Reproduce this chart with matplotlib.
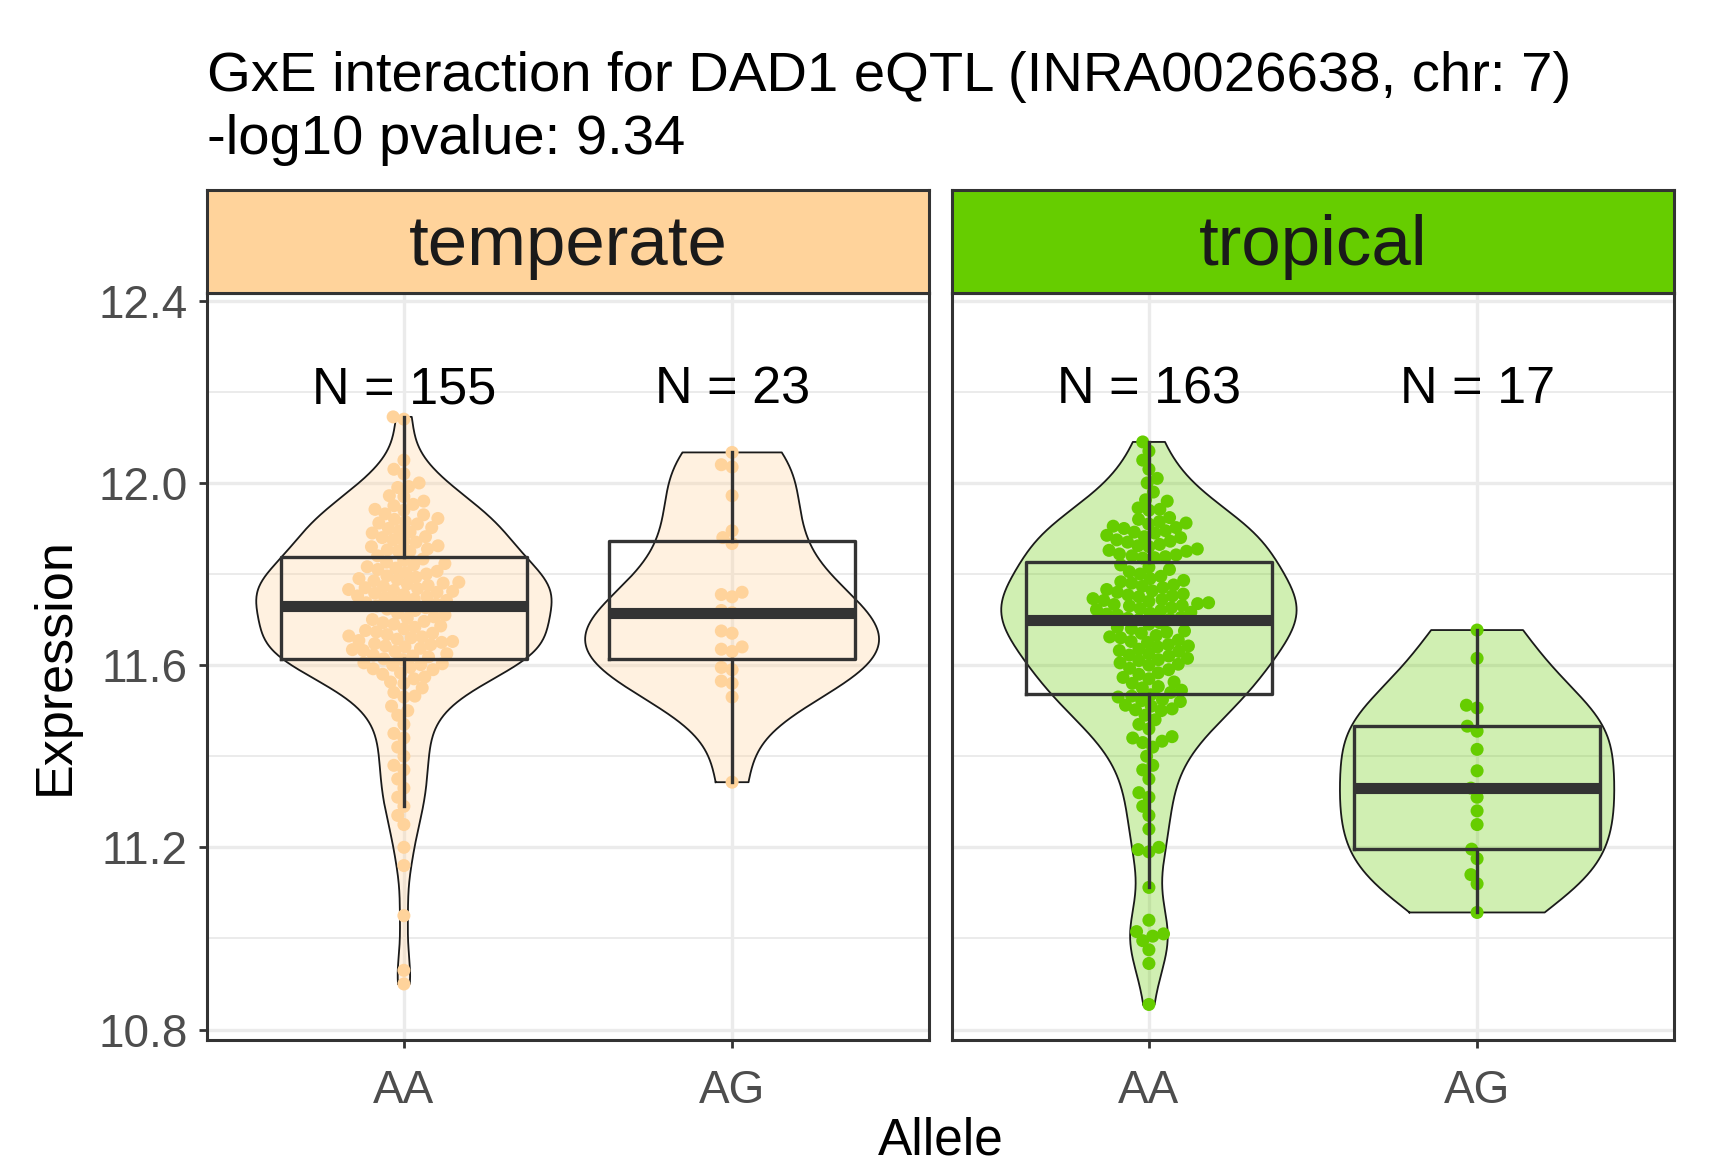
import numpy as np
import matplotlib
matplotlib.use("Agg")
import matplotlib.pyplot as plt

plt.rcParams['font.family'] = ['Liberation Sans', 'DejaVu Sans']

title = "GxE interaction for DAD1 eQTL (INRA0026638, chr: 7)\n-log10 pvalue: 9.34"
environments = ["temperate", "tropical"]
alleles = ["AA", "AG"]
env_colors = {"temperate": "#FFD39B", "tropical": "#66CD00"}

# expression values
temperate_AA = [
    10.90, 10.93, 11.05, 11.16, 11.20, 11.25, 11.27, 11.29, 11.31, 11.33,
    11.35, 11.37, 11.38, 11.40, 11.42, 11.44, 11.45, 11.47, 11.49, 11.50,
    11.51, 11.53, 11.532, 11.54, 11.55, 11.56, 11.563, 11.57, 11.574, 11.58,
    11.583, 11.59, 11.592, 11.595, 11.60, 11.601, 11.603, 11.605,
    11.612, 11.614, 11.618, 11.62, 11.622, 11.625, 11.63, 11.632, 11.634, 11.637,
    11.64, 11.642, 11.645, 11.647, 11.65, 11.652, 11.654, 11.657, 11.66, 11.662,
    11.664, 11.667, 11.67, 11.673, 11.676, 11.68, 11.683, 11.686, 11.69, 11.693,
    11.696, 11.70, 11.703, 11.706, 11.71, 11.714, 11.72, 11.723, 11.726,
    11.73,
    11.731, 11.734, 11.737, 11.74, 11.742, 11.745, 11.748, 11.75, 11.752, 11.755,
    11.758, 11.76, 11.762, 11.764, 11.766, 11.768, 11.77, 11.773, 11.775, 11.778,
    11.78, 11.782, 11.785, 11.788, 11.79, 11.793, 11.796, 11.80, 11.803, 11.806,
    11.81, 11.813, 11.816, 11.82, 11.823, 11.826, 11.83, 11.833,
    11.84, 11.85, 11.851, 11.853, 11.855, 11.86, 11.862, 11.87, 11.872, 11.875,
    11.88, 11.882, 11.89, 11.892, 11.895, 11.90, 11.902, 11.91, 11.912, 11.915,
    11.92, 11.922, 11.93, 11.932, 11.94, 11.942, 11.95, 11.953, 11.96, 11.97,
    11.972, 11.99, 11.992, 12.00, 12.02, 12.03, 12.05, 12.14, 12.145,
]
temperate_AG = [
    11.343, 11.53, 11.56, 11.565, 11.59, 11.595, 11.63, 11.635, 11.64, 11.67,
    11.675, 11.715, 11.72, 11.75, 11.755, 11.76, 11.867, 11.88, 11.895, 11.972,
    12.035, 12.04, 12.067,
]
tropical_AA = [
    10.855, 10.945, 10.975, 10.995, 11.005, 11.01, 11.015, 11.04, 11.112, 11.19,
    11.195, 11.20, 11.24, 11.27, 11.29, 11.31, 11.32, 11.35, 11.37, 11.38,
    11.40, 11.42, 11.43, 11.433, 11.44, 11.443, 11.46, 11.47, 11.48, 11.49,
    11.50, 11.502, 11.504, 11.51, 11.512, 11.52, 11.522, 11.524, 11.53, 11.532,
    11.535, 11.54, 11.545, 11.55, 11.553, 11.56, 11.563, 11.57, 11.573, 11.58,
    11.583, 11.59, 11.593, 11.60, 11.602, 11.605, 11.61, 11.612, 11.615, 11.62,
    11.622, 11.625, 11.63, 11.632, 11.635, 11.64, 11.642, 11.645, 11.65, 11.652,
    11.655, 11.66, 11.662, 11.665, 11.67, 11.672, 11.675, 11.68, 11.683, 11.69,
    11.693,
    11.70,
    11.701, 11.703, 11.705, 11.71, 11.712, 11.714, 11.716, 11.72, 11.722, 11.724,
    11.726, 11.73, 11.731, 11.733, 11.735, 11.737, 11.74, 11.742, 11.744, 11.746,
    11.75, 11.752, 11.754, 11.756, 11.76, 11.763, 11.766, 11.77, 11.773, 11.776,
    11.78, 11.783, 11.786, 11.79, 11.795, 11.80, 11.805, 11.81, 11.815, 11.82,
    11.835, 11.836, 11.838, 11.84, 11.842, 11.844, 11.85, 11.852, 11.855, 11.86,
    11.862, 11.865, 11.87, 11.872, 11.875, 11.88, 11.882, 11.885, 11.89, 11.892,
    11.895, 11.90, 11.902, 11.905, 11.91, 11.912, 11.915, 11.92, 11.924, 11.94,
    11.942, 11.945, 11.96, 11.963, 11.98, 12.00, 12.01, 12.03, 12.05, 12.07,
    12.09,
]
tropical_AG = [
    11.057, 11.12, 11.14, 11.175, 11.196, 11.25, 11.28, 11.31, 11.33, 11.368,
    11.415, 11.455, 11.466, 11.506, 11.512, 11.615, 11.677,
]
data = {
    "temperate": [temperate_AA, temperate_AG],
    "tropical": [tropical_AA, tropical_AG],
}
n_labels = {"temperate": ["N = 155", "N = 23"], "tropical": ["N = 163", "N = 17"]}
label_y = 12.205

ylim = (10.777, 12.417)
xlim = (0.4, 2.6)


def kde_nrd0(v, grid):
    v = np.asarray(v)
    n = len(v)
    iqr = np.subtract(*np.percentile(v, [75, 25]))
    bw = 0.9 * min(v.std(ddof=1), iqr / 1.34) * n ** -0.2
    z = (grid[:, None] - v[None, :]) / bw
    return np.exp(-0.5 * z ** 2).sum(axis=1) / (n * bw * np.sqrt(2 * np.pi))


def swarm_offsets(ax, xc, vals, d):
    # beeswarm layout in pixel space
    ys = ax.transData.transform(np.column_stack([np.full(len(vals), xc), vals]))[:, 1]
    px_per_x = ax.transData.transform([(1, 0)])[0, 0] - ax.transData.transform([(0, 0)])[0, 0]
    placed = []
    offs = np.zeros(len(vals))
    for i in np.argsort(vals, kind="stable"):
        y = ys[i]
        cands = [0.0]
        near = [(px, py) for px, py in placed if abs(py - y) < d]
        for px, py in near:
            dx = np.sqrt(d ** 2 - (py - y) ** 2)
            cands += [px - dx, px + dx]
        cands.sort(key=abs)
        for c in cands:
            if all((c - px) ** 2 + (y - py) ** 2 >= d ** 2 - 1e-6 for px, py in near):
                offs[i] = c
                break
        placed.append((offs[i], y))
    return xc + offs / px_per_x


fig = plt.figure(figsize=(17.23, 11.69), dpi=100)
W, H = 1723, 1169
panel_x = [207, 952]
panel_w = 722
top, bottom, strip_top = 293, 1040, 190

for k, env in enumerate(environments):
    ax = fig.add_axes([panel_x[k] / W, 1 - bottom / H, panel_w / W, (bottom - top) / H])
    ax.set_xlim(*xlim)
    ax.set_ylim(*ylim)
    col = env_colors[env]
    groups = data[env]

    grids = [np.linspace(min(g), max(g), 512) for g in groups]
    dens = [kde_nrd0(g, gr) for g, gr in zip(groups, grids)]
    dmax = max(d.max() for d in dens)

    for j, (g, gr, d) in enumerate(zip(groups, grids, dens)):
        xc = j + 1
        hw = d / dmax * 0.45
        xs = np.concatenate([xc - hw, (xc + hw)[::-1]])
        ys = np.concatenate([gr, gr[::-1]])
        ax.fill(xs, ys, facecolor=col, alpha=0.3, edgecolor="none", zorder=1)
        ax.plot(np.append(xs, xs[0]), np.append(ys, ys[0]), color="#1A1A1A", lw=1.3, zorder=1.5)

        px = swarm_offsets(ax, xc, np.array(g), 11.0)
        ax.scatter(px, g, s=88, color=col, edgecolors="none", zorder=2)

        ax.text(xc, label_y, n_labels[env][j], ha="center", va="center",
                fontsize=37.5, color="black", zorder=4)

    ax.boxplot(groups, positions=[1, 2], widths=0.75, showfliers=False, whis=1.5,
               showcaps=False, manage_ticks=False, zorder=3,
               boxprops=dict(color="#333333", lw=2.4),
               whiskerprops=dict(color="#333333", lw=2.4),
               medianprops=dict(color="#333333", lw=8, solid_capstyle="butt"))

    ax.set_yticks([10.8, 11.2, 11.6, 12.0, 12.4])
    ax.set_yticks([11.0, 11.4, 11.8, 12.2], minor=True)
    ax.set_xticks([1, 2])
    ax.set_xticklabels(alleles)
    ax.grid(which="major", color="#EBEBEB", lw=2.4, zorder=0)
    ax.grid(which="minor", axis="y", color="#EBEBEB", lw=1.4, zorder=0)
    ax.set_axisbelow(True)
    ax.tick_params(which="major", length=6, width=2, color="#333333",
                   labelsize=33, labelcolor="#4D4D4D")
    ax.tick_params(axis="x", pad=15)
    ax.tick_params(axis="y", pad=8)
    ax.tick_params(which="minor", length=0)
    if k == 0:
        ax.set_yticklabels(["10.8", "11.2", "11.6", "12.0", "12.4"])
    else:
        ax.tick_params(axis="y", which="both", left=False, labelleft=False)
    for s in ax.spines.values():
        s.set_color("#333333")
        s.set_linewidth(2.2)

    sax = fig.add_axes([panel_x[k] / W, 1 - top / H, panel_w / W, (top - strip_top) / H])
    sax.set_facecolor(col)
    sax.set_xticks([])
    sax.set_yticks([])
    for s in sax.spines.values():
        s.set_color("#333333")
        s.set_linewidth(2.2)
    sax.text(0.5, 0.45, env, ha="center", va="center", fontsize=51,
             color="#1A1A1A", transform=sax.transAxes)

fig.text(207 / W, 1 - 77 / H, title.split("\n")[0], ha="left", va="center", fontsize=40.5)
fig.text(207 / W, 1 - 140 / H, title.split("\n")[1], ha="left", va="center", fontsize=40.5)
fig.text(55 / W, 1 - 666 / H, "Expression", rotation=90, ha="center", va="center",
         fontsize=37.5)
fig.text((207 + 1674) / 2 / W, 1 - 1141 / H, "Allele", ha="center", va="center",
         fontsize=37)

fig.savefig("out.png", dpi=100)
